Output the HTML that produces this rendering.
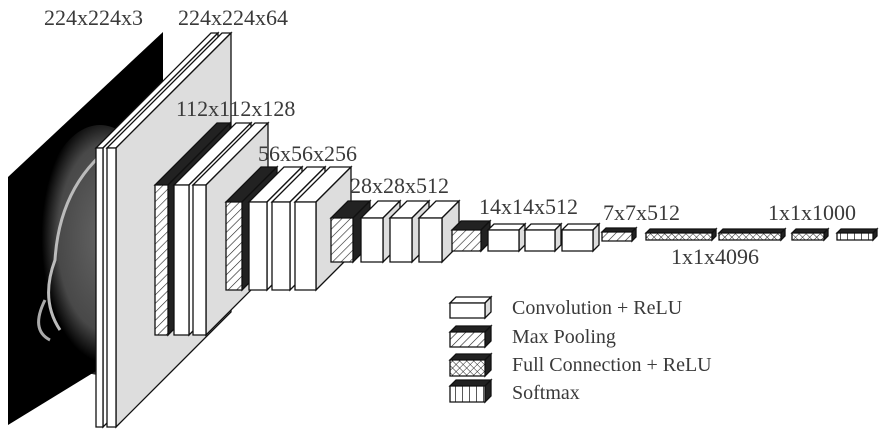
<!DOCTYPE html>
<html><head><meta charset="utf-8"><style>
html,body{margin:0;padding:0;background:#fff;}
svg{display:block}
text{font-family:"Liberation Serif",serif;fill:#3a3a3a;font-size:22px}
</style></head><body>
<svg id="s" width="880" height="433" viewBox="0 0 880 433" xmlns="http://www.w3.org/2000/svg">
<defs>
<pattern id="hatch" width="6" height="6" patternUnits="userSpaceOnUse" patternTransform="rotate(45)">
<rect width="6" height="6" fill="#fff"/><line x1="0" y1="0" x2="0" y2="6" stroke="#222" stroke-width="1.2"/></pattern>
<pattern id="cross" width="5" height="5" patternUnits="userSpaceOnUse" patternTransform="rotate(45)">
<rect width="5" height="5" fill="#fff"/><line x1="0" y1="0" x2="0" y2="5" stroke="#222" stroke-width="1"/><line x1="0" y1="0" x2="5" y2="0" stroke="#222" stroke-width="1"/></pattern>
<pattern id="vert" width="7" height="7" patternUnits="userSpaceOnUse">
<rect width="7" height="7" fill="#fff"/><line x1="0" y1="0" x2="0" y2="7" stroke="#222" stroke-width="1.5"/></pattern>
<radialGradient id="head" cx="0.55" cy="0.45" r="0.5"><stop offset="0" stop-color="#777"/><stop offset="0.75" stop-color="#555"/><stop offset="1" stop-color="#000"/></radialGradient>
</defs>
<polygon points="8,177 163,32 163,330 8,425" fill="#000"/>
<ellipse cx="100" cy="250" rx="65" ry="125" fill="url(#head)" opacity="0.85"/>
<path d="M60,330 Q40,300 55,260 Q60,180 120,140" stroke="#bbb" stroke-width="3" fill="none"/>
<path d="M50,340 Q30,330 45,300" stroke="#aaa" stroke-width="3" fill="none"/>
<g id="g"></g>
<text x="44" y="25">224x224x3</text>
<text x="178" y="25">224x224x64</text>
<text x="176" y="116">112x112x128</text>
<text x="258" y="161">56x56x256</text>
<text x="350" y="193">28x28x512</text>
<text x="479" y="214">14x14x512</text>
<text x="603" y="220">7x7x512</text>
<text x="768" y="220">1x1x1000</text>
<text x="671" y="264">1x1x4096</text>
<text x="512" y="314" style="font-size:20px">Convolution + ReLU</text>
<text x="512" y="343" style="font-size:20px">Max Pooling</text>
<text x="512" y="371" style="font-size:20px">Full Connection + ReLU</text>
<text x="512" y="399" style="font-size:20px">Softmax</text>
</svg>
<script>
var g=document.getElementById('g'),out='';
function P(pts,fill){return '<polygon points="'+pts.map(function(p){return p.join(',')}).join(' ')+'" fill="'+fill+'" stroke="#111" stroke-width="1.3" stroke-linejoin="miter"/>';}
function box(x,y,w,h,d,front,top,side){
 out+=P([[x,y],[x+d,y-d],[x+w+d,y-d],[x+w,y]],top);
 out+=P([[x+w,y],[x+w+d,y-d],[x+w+d,y+h-d],[x+w,y+h]],side);
 out+=P([[x,y],[x+w,y],[x+w,y+h],[x,y+h]],front);
}
var W='#fff',G='#ddd',K='#222',H='url(#hatch)',X='url(#cross)',V='url(#vert)';
box(96,148,7,279,115,W,W,W);box(107,148,9,279,115,W,W,G);
box(155,185,13,150,62,H,K,K);box(174,185,15,150,62,W,W,W);box(193,185,13,150,62,W,W,G);
box(226,202,16,88,35,H,K,K);box(249,202,18,88,35,W,W,W);box(272,202,18,88,35,W,W,W);box(295,202,21,88,35,W,W,G);
box(331,218,22,44,17,H,K,K);box(361,218,22,44,17,W,W,G);box(390,218,22,44,17,W,W,G);box(419,218,23,44,17,W,W,G);
box(452,230,29,21,9,H,K,K);box(488,230,31,21,6,W,W,G);box(525,230,30,21,6,W,W,G);box(562,230,31,21,6,W,W,G);
box(602,232,30,9,4,H,K,K);box(646,233,66,7,4,X,K,K);box(719,233,62,7,4,X,K,K);box(792,233,32,7,4,X,K,K);box(837,233,36,7,4,V,K,K);
box(450,303,35,15,6,W,W,G);box(450,332,35,15,6,H,K,K);box(450,360,35,16,6,X,K,K);box(450,386,35,16,6,V,K,K);
g.innerHTML=out;
</script>
</body></html>
